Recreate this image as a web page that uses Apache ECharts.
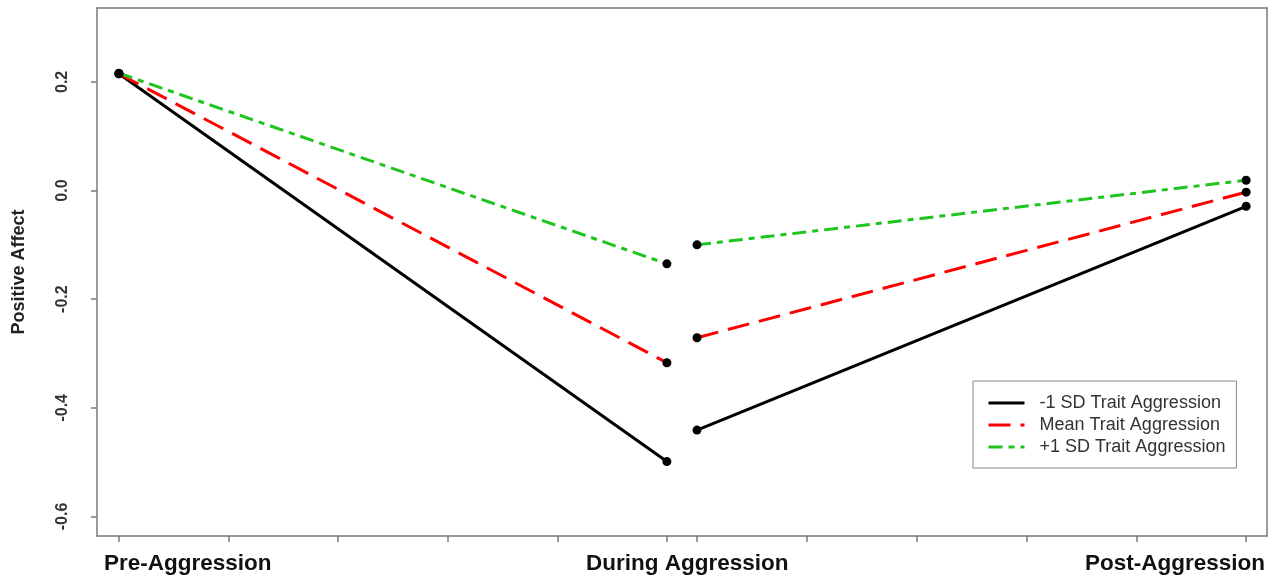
<!DOCTYPE html>
<html>
<head>
<meta charset="utf-8">
<script src="https://cdn.jsdelivr.net/npm/echarts@6/dist/echarts.min.js"></script>
<style>
html,body{margin:0;padding:0;background:#fff;}
#chart{width:1277px;height:579px;}
</style>
</head>
<body>
<div id="chart"></div>
<script>
// ---- data ----
const phaseLabels = ['Pre-Aggression', 'During Aggression', 'Post-Aggression'];
const seriesNames = ['-1 SD Trait Aggression', 'Mean Trait Aggression', '+1 SD Trait Aggression'];
const panelX = [1, 2];
const lowBefore = [0.215, -0.499];
const meanBefore = [0.215, -0.317];
const highBefore = [0.216, -0.135];
const lowAfter = [-0.441, -0.029];
const meanAfter = [-0.271, -0.003];
const highAfter = [-0.100, 0.019];
const xTicks = [1, 1.2, 1.4, 1.6, 1.8, 2];
const yTicks = [-0.6, -0.4, -0.2, 0.0, 0.2];
const yAxisTitle = 'Positive Affect';

// ---- styles ----
const colors = ['#000000', '#ff0000', '#1fc41f'];
const dashes = ['solid', [22, 10], [14, 6, 6, 6]];
const boxColor = '#7a7a7a';
const FONT = '"Liberation Sans", Arial, sans-serif';

const chart = echarts.init(document.getElementById('chart'));

function pairs(vals) { return panelX.map((x, i) => [x, vals[i]]); }

const before = [lowBefore, meanBefore, highBefore];
const after = [lowAfter, meanAfter, highAfter];

const series = [];
[before, after].forEach((panel, gi) => {
  panel.forEach((vals, si) => {
    series.push({
      name: seriesNames[si], type: 'line', xAxisIndex: gi * 2, yAxisIndex: gi,
      data: pairs(vals), symbol: 'none', silent: true, z: 2 + si,
      lineStyle: { color: colors[si], width: 3, type: dashes[si] },
      itemStyle: { color: colors[si] }
    });
  });
  panel.forEach((vals) => {
    series.push({
      name: 'pts', type: 'scatter', xAxisIndex: gi * 2, yAxisIndex: gi,
      data: pairs(vals), symbol: 'circle', symbolSize: 9, z: 10,
      itemStyle: { color: '#000', opacity: 1 }, silent: true
    });
  });
});

const yRange = { min: -0.636, max: 0.336 };

function xBottom(gridIndex, min, max) {
  return {
    type: 'value', gridIndex, min, max, position: 'bottom',
    axisLine: { show: true, onZero: false, lineStyle: { color: boxColor, width: 1.5 } },
    axisTick: { show: true, customValues: xTicks, length: 6, lineStyle: { color: boxColor, width: 1.5 } },
    axisLabel: { show: false }, splitLine: { show: false }
  };
}
function xTop(gridIndex, min, max) {
  return {
    type: 'value', gridIndex, min, max, position: 'top',
    axisLine: { show: true, onZero: false, lineStyle: { color: boxColor, width: 1.5 } },
    axisTick: { show: false }, axisLabel: { show: false }, splitLine: { show: false }
  };
}

chart.setOption({
  animation: false,
  backgroundColor: '#fff',
  grid: [
    { left: 97, top: 8, width: 586, height: 528 },
    { left: 683, top: 8, width: 584, height: 528 }
  ],
  xAxis: [
    xBottom(0, 0.96, 2.0294), xTop(0, 0.96, 2.0294),
    xBottom(1, 0.9745, 2.038), xTop(1, 0.9745, 2.038)
  ],
  yAxis: [
    {
      type: 'value', gridIndex: 0, min: yRange.min, max: yRange.max, position: 'left',
      name: yAxisTitle, nameLocation: 'middle', nameGap: 69, nameRotate: 90,
      nameTextStyle: { fontFamily: FONT, fontWeight: 'bold', fontSize: 18, color: '#222' },
      axisLine: { show: true, onZero: false, lineStyle: { color: boxColor, width: 1.5 } },
      axisTick: { show: true, customValues: yTicks, length: 6, lineStyle: { color: boxColor, width: 1.5 } },
      axisLabel: {
        show: true, customValues: yTicks, rotate: 90, margin: 26,
        fontFamily: FONT, fontWeight: 'bold', fontSize: 16, color: '#333',
        formatter: v => Number(v).toFixed(1)
      },
      splitLine: { show: false }
    },
    {
      type: 'value', gridIndex: 1, min: yRange.min, max: yRange.max, position: 'right',
      axisLine: { show: true, onZero: false, lineStyle: { color: boxColor, width: 1.5 } },
      axisTick: { show: false }, axisLabel: { show: false }, splitLine: { show: false }
    }
  ],
  legend: {
    data: seriesNames, orient: 'vertical', left: 973, top: 381,
    itemWidth: 36, itemHeight: 14, itemGap: 4,
    padding: [13, 11, 12, 14],
    itemStyle: { opacity: 0 },
    lineStyle: { width: 3 },
    borderColor: '#888', borderWidth: 1, selectedMode: false,
    textStyle: { fontFamily: FONT, fontSize: 18, color: '#333', padding: [0, 0, 0, 10] }
  },
  graphic: [
    { type: 'text', left: 104, top: 552, style: { text: phaseLabels[0], font: 'bold 22.5px ' + FONT, fill: '#111' } },
    { type: 'text', left: 586, top: 552, style: { text: phaseLabels[1], font: 'bold 22.5px ' + FONT, fill: '#111' } },
    { type: 'text', left: 1085, top: 552, style: { text: phaseLabels[2], font: 'bold 22.5px ' + FONT, fill: '#111' } }
  ],
  series
});
</script>
</body>
</html>
